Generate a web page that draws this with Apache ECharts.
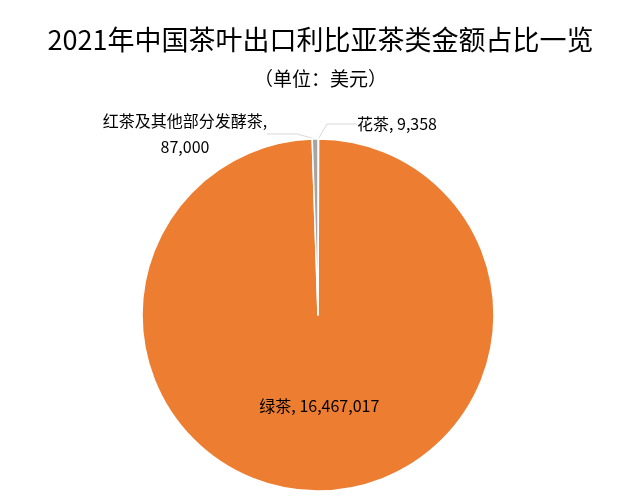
<!DOCTYPE html>
<html><head><meta charset="utf-8">
<script src="https://cdn.jsdelivr.net/npm/echarts@6/dist/echarts.min.js"></script>
<style>html,body{margin:0;padding:0;background:#fff}#c{width:641px;height:503px}</style>
</head><body><div id="c"></div>
<script>
var titleText = '2021年中国茶叶出口利比亚茶类金额占比一览';
var subText = '（单位：美元）';
var categories = ['花茶', '绿茶', '红茶及其他部分发酵茶'];
var values = [9358, 16467017, 87000];
var colors = ['#4472C4', '#ED7D31', '#A5A5A5'];

function fmt(n){ return n.toString().replace(/\B(?=(\d{3})+(?!\d))/g, ','); }

var font = '"Microsoft YaHei","Noto Sans CJK SC","Noto Sans",sans-serif';
var data = categories.map(function(c, i){
  var item = { name: c, value: values[i], itemStyle: { color: colors[i] } };
  if (i === 1) {
    item.label = { position: 'inside' };
    item.labelLine = { show: false };
  }
  return item;
});

var chart = echarts.init(document.getElementById('c'), null, {renderer: 'canvas'});
chart.setOption({
  backgroundColor: '#fff',
  animation: false,
  title: [
    { text: titleText, left: 'center', top: 21, textStyle: { fontSize: 27, fontWeight: 'normal', color: '#000', fontFamily: font } },
    { text: subText, left: 'center', top: 64, textStyle: { fontSize: 19, fontWeight: 'normal', color: '#000', fontFamily: font } }
  ],
  series: [{
    type: 'pie',
    center: [318, 315],
    radius: [0, 176],
    startAngle: 90,
    clockwise: true,
    avoidLabelOverlap: false,
    itemStyle: { borderColor: '#fff', borderWidth: 1.5 },
    label: {
      show: true,
      color: '#000',
      fontSize: 16,
      fontFamily: font,
      lineHeight: 26,
      align: 'center',
      formatter: function(p){
        if (p.dataIndex === 2) return p.name + ',\n' + fmt(p.value);
        return p.name + ', ' + fmt(p.value);
      }
    },
    labelLine: { show: true, length: 8, length2: 30, lineStyle: { color: '#D9D9D9', width: 1 } },
    labelLayout: function(p){
      if (p.dataIndex === 0) return { x: 397, y: 124, align: 'center', verticalAlign: 'middle' };
      if (p.dataIndex === 2) return { x: 185, y: 134, align: 'center', verticalAlign: 'middle' };
      return {};
    },
    data: data
  }]
});
</script></body></html>
